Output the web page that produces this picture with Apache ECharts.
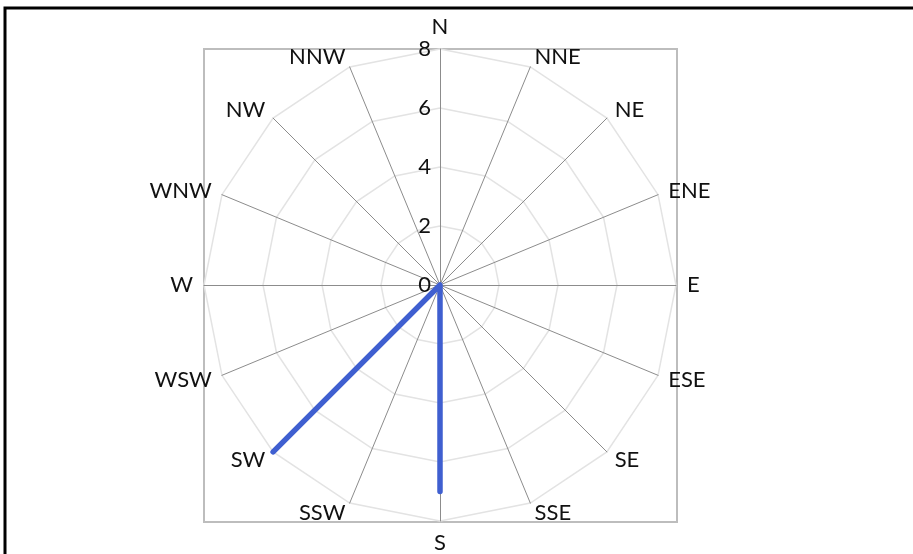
<!DOCTYPE html>
<html>
<head>
<meta charset="utf-8">
<script src="https://cdn.jsdelivr.net/npm/echarts@6/dist/echarts.min.js"></script>
<style>
  html, body { margin: 0; padding: 0; background: #fff; }
  #chart { width: 913px; height: 554px; }
</style>
</head>
<body>
<div id="chart"></div>
<script>
// Directions in clockwise order starting at North
const directions = ['N','NNE','NE','ENE','E','ESE','SE','SSE','S','SSW','SW','WSW','W','WNW','NW','NNW'];
// Values per direction (same order)
const speeds = [0,0,0,0,0,0,0,0,7,0,8,0,0,0,0,0];
// Radial tick labels
const radialTicks = [0,2,4,6,8];

const CX = 440, CY = 285, R = 236;
const FONT = 'Lato, "Open Sans", sans-serif';

// ECharts radar places indicators counter-clockwise; reorder to get a clockwise compass
const order = [0].concat(directions.map((d, i) => i).slice(1).reverse());
const tMin = radialTicks[0], tMax = radialTicks[radialTicks.length - 1];

const indicator = order.map((idx, k) => {
  const ind = { name: directions[idx], min: tMin, max: tMax };
  if (k === 0) {
    ind.axisLabel = { show: true, color: '#111', fontSize: 22, fontFamily: FONT, margin: 9 };
  }
  return ind;
});
const values = order.map(idx => speeds[idx]);

const chart = echarts.init(document.getElementById('chart'), null, { renderer: 'canvas' });
chart.setOption({
  animation: false,
  backgroundColor: '#ffffff',
  graphic: [
    { type: 'rect', z: -10, shape: { x: 5, y: 8, width: 1000, height: 700 },
      style: { fill: 'none', stroke: '#000', lineWidth: 3 } },
    { type: 'rect', z: -9, shape: { x: CX - R, y: CY - R, width: 2 * R + 1, height: 2 * R + 1 },
      style: { fill: 'none', stroke: '#bdbdbd', lineWidth: 2 } }
  ],
  radar: {
    center: [CX, CY],
    radius: R,
    startAngle: 90,
    shape: 'polygon',
    splitNumber: radialTicks.length - 1,
    indicator: indicator,
    nameGap: 11,
    axisName: { color: '#111', fontSize: 22, fontFamily: FONT },
    axisLine: { show: true, lineStyle: { color: '#8c8c8c', width: 1 } },
    axisTick: { show: false },
    axisLabel: { show: false },
    splitLine: { show: true, lineStyle: { color: '#e3e3e3', width: 1.5 } },
    splitArea: { show: false }
  },
  series: [{
    type: 'radar',
    symbol: 'none',
    lineStyle: { color: '#3f5fd0', width: 5.5 },
    data: [{ value: values, name: 'Wind' }]
  }]
});
</script>
</body>
</html>
